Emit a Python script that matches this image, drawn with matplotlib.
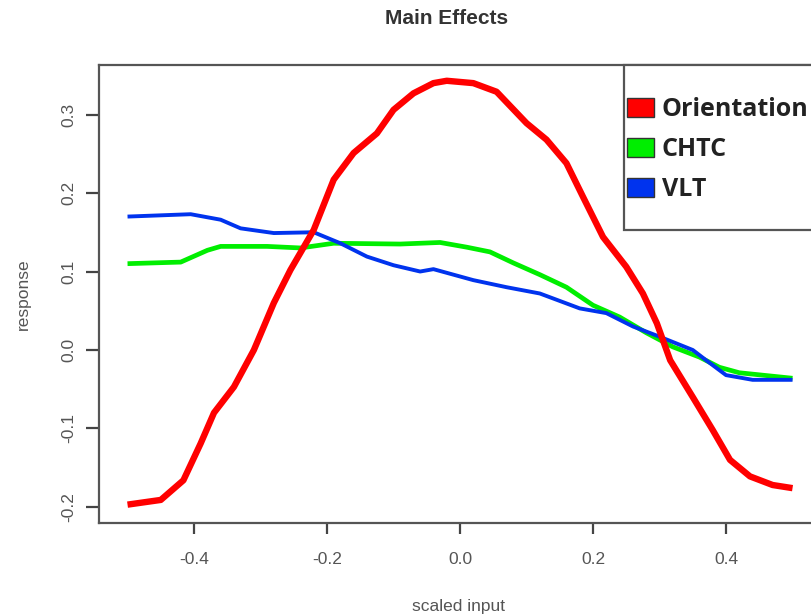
import matplotlib
matplotlib.use("Agg")
import matplotlib.pyplot as plt
from matplotlib.patches import Patch, Rectangle

# ---- data ----
orient_x = [-0.50, -0.45, -0.416, -0.39, -0.37, -0.34, -0.31, -0.28, -0.255, -0.22, -0.19, -0.16,
            -0.125, -0.10, -0.07, -0.04, -0.02, 0.02, 0.055, 0.10, 0.13, 0.16, 0.185, 0.215,
            0.25, 0.275, 0.296, 0.316, 0.35, 0.38, 0.406, 0.436, 0.47, 0.50]
orient_y = [-0.197, -0.191, -0.166, -0.119, -0.080, -0.047, 0.000, 0.060, 0.102, 0.153, 0.217, 0.251,
            0.276, 0.306, 0.327, 0.340, 0.343, 0.340, 0.329, 0.289, 0.268, 0.238, 0.195, 0.144,
            0.106, 0.072, 0.034, -0.013, -0.060, -0.102, -0.140, -0.161, -0.172, -0.176]

chtc_x = [-0.50, -0.42, -0.38, -0.36, -0.29, -0.24, -0.19, -0.09, -0.03, 0.01, 0.045, 0.08,
          0.12, 0.16, 0.20, 0.24, 0.28, 0.32, 0.36, 0.39, 0.42, 0.50]
chtc_y = [0.110, 0.112, 0.127, 0.132, 0.132, 0.130, 0.136, 0.135, 0.137, 0.131, 0.125, 0.111,
          0.096, 0.080, 0.057, 0.042, 0.022, 0.004, -0.009, -0.022, -0.029, -0.036]

vlt_x = [-0.50, -0.405, -0.36, -0.33, -0.28, -0.22, -0.18, -0.14, -0.10, -0.06, -0.04, 0.02,
         0.07, 0.12, 0.18, 0.22, 0.26, 0.30, 0.35, 0.37, 0.40, 0.44, 0.50]
vlt_y = [0.170, 0.173, 0.166, 0.155, 0.149, 0.150, 0.136, 0.119, 0.108, 0.100, 0.103, 0.089,
         0.080, 0.072, 0.053, 0.047, 0.030, 0.017, 0.000, -0.013, -0.032, -0.038, -0.038]

series_names = ["Orientation", "CHTC", "VLT"]
series_colors = ["#ff0000", "#00ee00", "#0033ee"]

x_ticks = [-0.4, -0.2, 0.0, 0.2, 0.4]
x_tick_labels = ["-0.4", "-0.2", "0.0", "0.2", "0.4"]
y_ticks = [-0.2, -0.1, 0.0, 0.1, 0.2, 0.3]
y_tick_labels = ["-0.2", "-0.1", "0.0", "0.1", "0.2", "0.3"]

# ---- figure ----
W, H = 811, 616
fig = plt.figure(figsize=(W / 100, H / 100), dpi=100)
plt.rcParams['font.family'] = ['Liberation Sans', 'DejaVu Sans']

ax = fig.add_axes([99 / W, (H - 523) / H, 720 / W, (523 - 65) / H])
ax.set_xlim(-0.5429, 0.5398)
ax.set_ylim(-0.2204, 0.3631)

ax.plot(orient_x, orient_y, color=series_colors[0], lw=4.6, solid_capstyle='butt',
        solid_joinstyle='round', zorder=3)
ax.plot(chtc_x, chtc_y, color=series_colors[1], lw=3.4, solid_capstyle='butt',
        solid_joinstyle='round', zorder=2)
ax.plot(vlt_x, vlt_y, color=series_colors[2], lw=2.8, solid_capstyle='butt',
        solid_joinstyle='round', zorder=2.5)

for s in ax.spines.values():
    s.set_color('#555555')
    s.set_linewidth(1.6)

ax.set_xticks(x_ticks)
ax.set_xticklabels(x_tick_labels)
ax.set_yticks(y_ticks)
ax.set_yticklabels(y_tick_labels, rotation=90, va='center')
ax.tick_params(direction='out', width=1.6, color='#444444',
               labelcolor='#555555', labelsize=12.5)
ax.tick_params(axis='x', length=8, pad=13)
ax.tick_params(axis='y', length=9.4, pad=7)

ax.set_xlabel("scaled input", fontsize=12.5, color='#555555', labelpad=23)
ax.set_ylabel("response", fontsize=12.5, color='#555555', labelpad=22)

fig.text(447 / W, 1 - 19 / H, "Main Effects", ha='center', va='center',
         fontsize=15, fontweight='bold', color='#333333')

# legend frame (extends past the right edge like the reference)
def px2ax(px, py):
    return ((px - 99) / 720, (523 - py) / (523 - 65))

x0, y0 = px2ax(624, 230)
x1, y1 = px2ax(840, 65)
ax.add_patch(Rectangle((x0, y0), x1 - x0, y1 - y0, transform=ax.transAxes,
                       facecolor='white', edgecolor='#555555', lw=1.6, zorder=5,
                       clip_on=False))

handles = [Patch(facecolor=c, edgecolor='#333333', lw=1.0) for c in series_colors]
lx, ly = px2ax(627, 97)
leg = ax.legend(handles, series_names, loc='upper left', bbox_to_anchor=(lx, ly),
                frameon=False, borderaxespad=0, borderpad=0,
                prop={'family': 'Open Sans', 'weight': 'bold', 'size': 18},
                handlelength=1.1, handleheight=0.8, handletextpad=0.3,
                labelspacing=0.6, labelcolor='#222222')
leg.set_zorder(6)

fig.savefig("out.png", dpi=100)
